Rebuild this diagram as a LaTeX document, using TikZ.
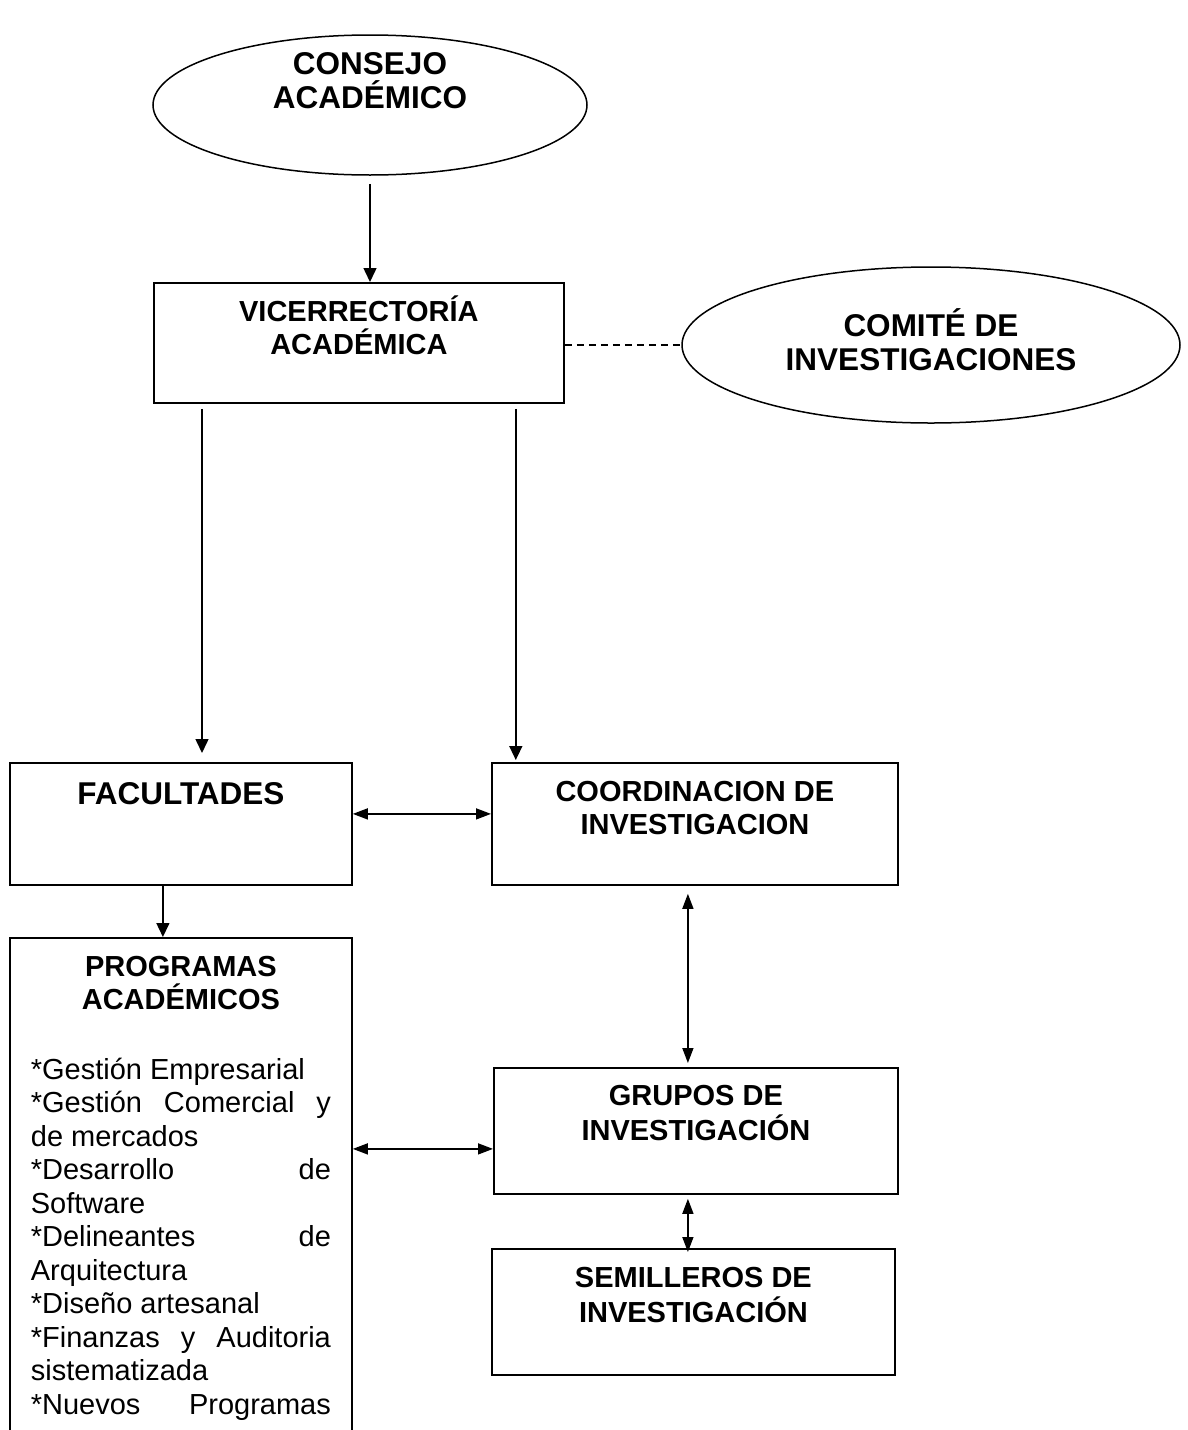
\documentclass[tikz,border=0pt]{standalone}
\usepackage{fontspec}
\setmainfont{Liberation Sans}
\usepackage{tikz}
\usetikzlibrary{arrows.meta, shapes.geometric}

\begin{document}
\begin{tikzpicture}[
        x=1pt, y=-1pt,
        every node/.style={font=\bfseries\fontsize{29pt}{33.5pt}\selectfont},
        box/.style={draw, line width=1.8pt, inner sep=0pt, anchor=north west, align=center},
        oval/.style={draw, ellipse, line width=1.5pt, inner sep=0pt, align=center},
        grande/.style={font=\bfseries\fontsize{31.5pt}{34pt}\selectfont},
        flecha/.style={line width=1.5pt, -{Triangle[length=14pt, width=13pt]}},
        doble/.style={line width=1.5pt, {Triangle[length=15pt, width=11pt]}-{Triangle[length=15pt, width=11pt]}},
      ]
        \useasboundingbox (0,0) rectangle (1188,1430);
        \clip (0,0) rectangle (1188,1430);

        \node[oval, grande, minimum width=434pt, minimum height=140pt, text height=44pt, text depth=38pt] (consejo) at (370,105) {CONSEJO\\ACADÉMICO};
        \node[box, minimum width=410pt, text height=72pt, text depth=48pt] (vice) at (153,282) {VICERRECTORÍA\\ACADÉMICA};
        \node[oval, grande, minimum width=498pt, minimum height=156pt, text height=57pt, text depth=7pt] (comite) at (931,345) {COMITÉ DE\\INVESTIGACIONES};
        \node[box, grande, minimum width=342pt, text height=41.5pt, text depth=80.5pt] (fac) at (9,762) {FACULTADES};
        \node[box, minimum width=406pt, text height=71.9pt, text depth=50.1pt] (coord) at (491,762) {COORDINACION DE\\INVESTIGACION};
        \node[box, minimum width=404pt, text height=72.5pt, text depth=53.5pt, font=\bfseries\fontsize{29pt}{35pt}\selectfont] (grupos) at (493,1067) {GRUPOS DE\\INVESTIGACIÓN};
        \node[box, minimum width=403pt, text height=73.5pt, text depth=52.5pt, font=\bfseries\fontsize{29pt}{35pt}\selectfont] (semi) at (491,1248) {SEMILLEROS DE\\INVESTIGACIÓN};
        \node[box, align=justify, text width=300pt, inner xsep=21pt, text height=38.4pt, text depth=600pt] (prog) at (9,937) {%
          \parindent=0pt\parskip=0pt\hyphenpenalty=10000
          {\centering PROGRAMAS\\ACADÉMICOS\par}\vspace{35.7pt}
          \mdseries
          *Gestión Empresarial\par
          *Gestión Comercial y\linebreak de mercados\par
          *Desarrollo de\linebreak Software\par
          *Delineantes de\linebreak Arquitectura\par
          *Diseño artesanal\par
          *Finanzas y Auditoria\linebreak sistematizada\par
          *Nuevos\hfill Programas\par};

        \draw[flecha] ([yshift=-8pt]consejo.south) -- (consejo.south |- vice.north);
        \draw[line width=1.3pt, dash pattern=on 7pt off 5pt] (vice.east |- comite.west) -- (comite.west);
        \draw[flecha, shorten >=9pt] ([xshift=49pt, yshift=-5pt]vice.south west) coordinate (vf) -- (vf |- fac.north);
        \draw[flecha, shorten >=2pt] ([xshift=-49pt, yshift=-5pt]vice.south east) coordinate (vc) -- (vc |- coord.north);
        \draw[flecha] ([xshift=-18pt]fac.south) coordinate (fp) -- (fp |- prog.north);
        \draw[doble] ([yshift=10pt]fac.east) coordinate (fc) -- (fc -| coord.west);
        \draw[doble, shorten <=8pt, shorten >=4pt] ([xshift=-7pt]coord.south) coordinate (cg) -- (cg |- grupos.north);
        \draw[doble] ([yshift=-18pt]grupos.west) coordinate (gp) -- (gp -| prog.east);
        \draw[doble, shorten <=4pt, shorten >=-4pt] ([xshift=-8pt]grupos.south) coordinate (gs) -- (gs |- semi.north);
      \end{tikzpicture}
\end{document}
